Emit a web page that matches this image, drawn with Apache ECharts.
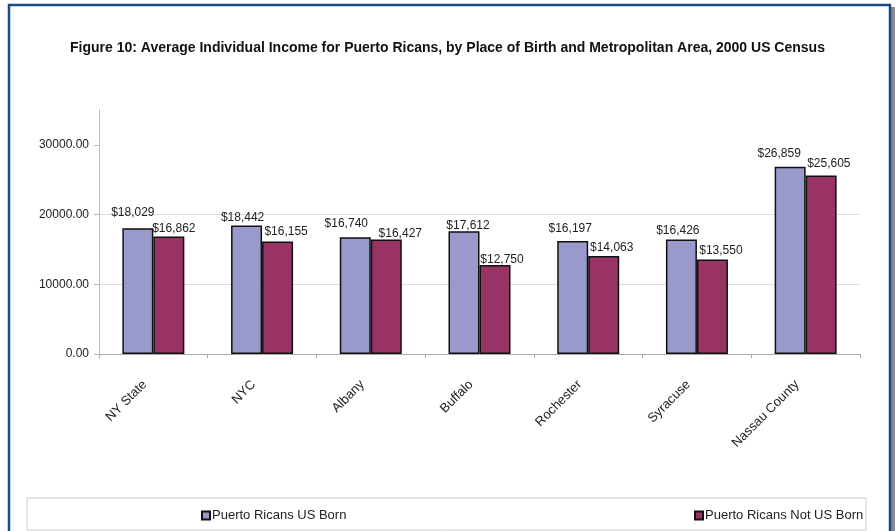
<!DOCTYPE html>
<html>
<head>
<meta charset="utf-8">
<script src="https://cdn.jsdelivr.net/npm/echarts@6/dist/echarts.min.js"></script>
<style>
html,body{margin:0;padding:0;background:#fff;}
#chart{width:895px;height:531px;}
</style>
</head>
<body>
<div id="chart"></div>
<script>
const categories = ['NY State', 'NYC', 'Albany', 'Buffalo', 'Rochester', 'Syracuse', 'Nassau County'];
const usBorn = [18029, 18442, 16740, 17612, 16197, 16426, 26859];
const notUsBorn = [16862, 16155, 16427, 12750, 14063, 13550, 25605];
const yTicks = [0, 10000, 20000, 30000];
const seriesNames = ['Puerto Ricans US Born', 'Puerto Ricans Not US Born'];
const titleText = 'Figure 10: Average Individual Income for Puerto Ricans, by Place of Birth and Metropolitan Area, 2000 US Census';

// label placement tweaks (layout only)
const blueLabelShift = [[-5, 16], [-4, 8], [-9, 14], [4, 6], [-2.5, 12], [-3.6, 9], [-11, 12.7]];
const redLabelShift = [[5, 8], [8.5, 10], [14, 6], [7, 5], [8, 8.6], [8.5, 9.3], [7.7, 11.7]];

const FONT = 'Liberation Sans, Arial, sans-serif';
const fmt = v => '$' + v.toLocaleString('en-US');

function buildData(values, shifts) {
  return values.map((v, i) => ({
    value: v,
    label: { offset: [shifts[i][0], -(shifts[i][1] - 8)] }
  }));
}

const chart = echarts.init(document.getElementById('chart'));
const labelCommon = {
  show: true, position: 'top', distance: 2,
  fontFamily: FONT, fontSize: 12, color: '#222',
  formatter: p => fmt(p.value)
};
const legendText = { fontFamily: FONT, fontSize: 13, color: '#222', padding: [0,0,0,-3] };
chart.setOption({
  animation: false,
  backgroundColor: '#fff',
  title: {
    text: titleText, left: 'center', top: 36,
    textStyle: { fontFamily: FONT, fontSize: 14, fontWeight: 'bold', color: '#111' }
  },
  grid: { left: 99, right: 35, top: 110, bottom: 177, outerBoundsMode: 'none' },
  legend: [
    { data: [seriesNames[0]], left: 196, top: 504, icon: 'rect', itemWidth: 8, itemHeight: 8, itemGap: 3, textStyle: legendText },
    { data: [seriesNames[1]], left: 689, top: 504, icon: 'rect', itemWidth: 8, itemHeight: 8, itemGap: 3, textStyle: legendText }
  ],
  xAxis: {
    type: 'category', data: categories,
    axisLine: { lineStyle: { color: '#aaa', width: 1 } },
    axisTick: { show: true, length: 4, lineStyle: { color: '#aaa' } },
    axisLabel: { rotate: 45, margin: 20, padding: [0, 12, 0, 0], fontFamily: FONT, fontSize: 13, color: '#222', interval: 0 }
  },
  yAxis: {
    type: 'value', min: 0, max: 35000, interval: 10000,
    axisLine: { show: true, lineStyle: { color: '#bbb' } },
    axisTick: { show: true, length: 5, lineStyle: { color: '#bbb' }, customValues: yTicks },
    axisLabel: { customValues: yTicks, formatter: v => v.toFixed(2), fontFamily: FONT, fontSize: 12, color: '#222', margin: 10 },
    splitLine: { show: true, showMaxLine: false, lineStyle: { color: '#ddd' } }
  },
  series: [
    { name: seriesNames[0], type: 'bar', barWidth: 31, barGap: 0,
      itemStyle: { color: '#9999cc', borderColor: '#111', borderWidth: 1.5 },
      label: labelCommon, data: buildData(usBorn, blueLabelShift) },
    { name: seriesNames[1], type: 'bar', barWidth: 31, barGap: 0,
      itemStyle: { color: '#993366', borderColor: '#111', borderWidth: 1.5 },
      label: labelCommon, data: buildData(notUsBorn, redLabelShift) }
  ],
  graphic: [
    { type: 'rect', z: -1, shape: { x: 27, y: 498, width: 839, height: 32 },
      style: { fill: '#fff', stroke: '#ccc', lineWidth: 1 } },
    { type: 'rect', z: 100, shape: { x: 891, y: 7, width: 4, height: 530 },
      style: { fill: '#888' } },
    { type: 'rect', z: 101, shape: { x: 9, y: 5, width: 881, height: 540 },
      style: { fill: null, stroke: '#1a4a86', lineWidth: 2.5 } }
  ]
});
</script>
</body>
</html>
